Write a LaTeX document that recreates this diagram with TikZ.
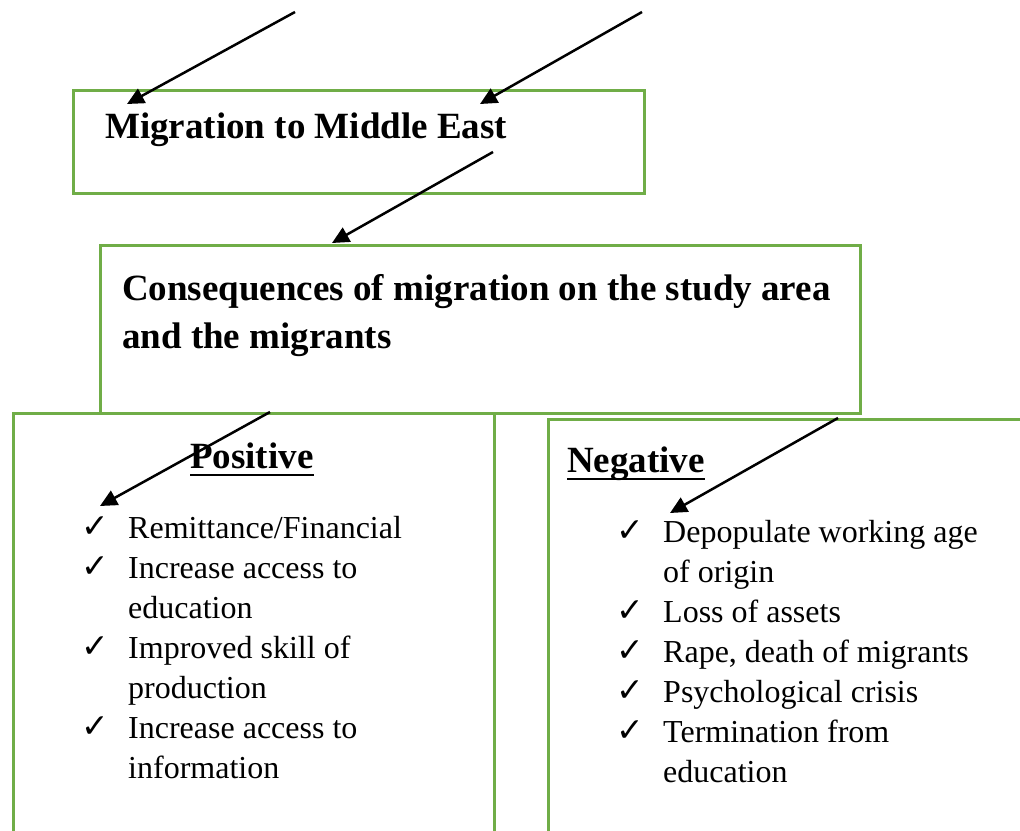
\documentclass[tikz,border=0pt]{standalone}
\usepackage{fontspec}
\setmainfont{Liberation Serif}
\newfontfamily\symfont{DejaVu Sans}
\usetikzlibrary{arrows.meta}
\definecolor{boxgreen}{RGB}{112,173,71}
\begin{document}
\begin{tikzpicture}[x=1pt,y=-1pt,
  gbox/.style={draw=boxgreen, line width=2.6pt, inner sep=0pt, anchor=north west},
  conn/.style={draw=black, line width=2.5pt, -{Triangle[length=17pt,width=16pt]}},
  head/.style={inner sep=0pt, anchor=base west, font=\fontsize{37}{44}\selectfont\bfseries},
  itemtxt/.style={inner sep=0pt, anchor=base west, font=\fontsize{32}{40}\selectfont},
  tick/.style={inner sep=0pt, anchor=base west, font=\symfont\fontsize{33}{40}\selectfont},
  uline/.style={line width=2.5pt}
]
\useasboundingbox (0,0) rectangle (1020,830);

% boxes
\node[gbox, minimum width=571pt, minimum height=103pt] (b1) at (72,89) {};
\node[gbox, minimum width=760pt, minimum height=168pt] (b2) at (99,244) {};
\node[gbox, minimum width=481pt, minimum height=460pt] (bpos) at (12,412) {};
\node[gbox, minimum width=520pt, minimum height=460pt] (bneg) at (547,418) {};

% headings
\node[head] (t1) at (105,138) {Migration to Middle East};
\node[head] (t2a) at (122,300) {Consequences of migration on the study area};
\node[head] (t2b) at (122,348) {and the migrants};
\node[head] (pos) at (190,468) {Positive};
\node[head] (neg) at (567,472) {Negative};
\draw[uline] ([yshift=-7pt]pos.base west) -- ([yshift=-7pt]pos.base east);
\draw[uline] ([yshift=-7pt]neg.base west) -- ([yshift=-7pt]neg.base east);

% positive list
\node[tick] (pc1) at (81,537) {✓};
\node[itemtxt] (p1) at (128,538) {Remittance/Financial};
\node[tick] (pc2) at (81,577) {✓};
\node[itemtxt] (p2) at (128,578) {Increase access to};
\node[itemtxt] (p2b) at (128,618) {education};
\node[tick] (pc3) at (81,657) {✓};
\node[itemtxt] (p3) at (128,658) {Improved skill of};
\node[itemtxt] (p3b) at (128,698) {production};
\node[tick] (pc4) at (81,737) {✓};
\node[itemtxt] (p4) at (128,738) {Increase access to};
\node[itemtxt] (p4b) at (128,778) {information};

% negative list
\node[tick] (nc1) at (616,541) {✓};
\node[itemtxt] (n1) at (663,542) {Depopulate working age};
\node[itemtxt] (n1b) at (663,582) {of origin};
\node[tick] (nc2) at (616,621) {✓};
\node[itemtxt] (n2) at (663,622) {Loss of assets};
\node[tick] (nc3) at (616,661) {✓};
\node[itemtxt] (n3) at (663,662) {Rape, death of migrants};
\node[tick] (nc4) at (616,701) {✓};
\node[itemtxt] (n4) at (663,702) {Psychological crisis};
\node[tick] (nc5) at (616,741) {✓};
\node[itemtxt] (n5) at (663,742) {Termination from};
\node[itemtxt] (n5b) at (663,782) {education};

% arrows
\coordinate (a1s) at (295,12);  \coordinate (a1e) at (127,104);
\coordinate (a2s) at (642,12);  \coordinate (a2e) at (480,104);
\coordinate (a3s) at (493,152); \coordinate (a3e) at (332,243);
\coordinate (a4s) at (270,412); \coordinate (a4e) at (100,506);
\coordinate (a5s) at (838,418); \coordinate (a5e) at (670,513);
\draw[conn] (a1s) -- (a1e);
\draw[conn] (a2s) -- (a2e);
\draw[conn] (a3s) -- (a3e);
\draw[conn] (a4s) -- (a4e);
\draw[conn] (a5s) -- (a5e);
\end{tikzpicture}
\end{document}
